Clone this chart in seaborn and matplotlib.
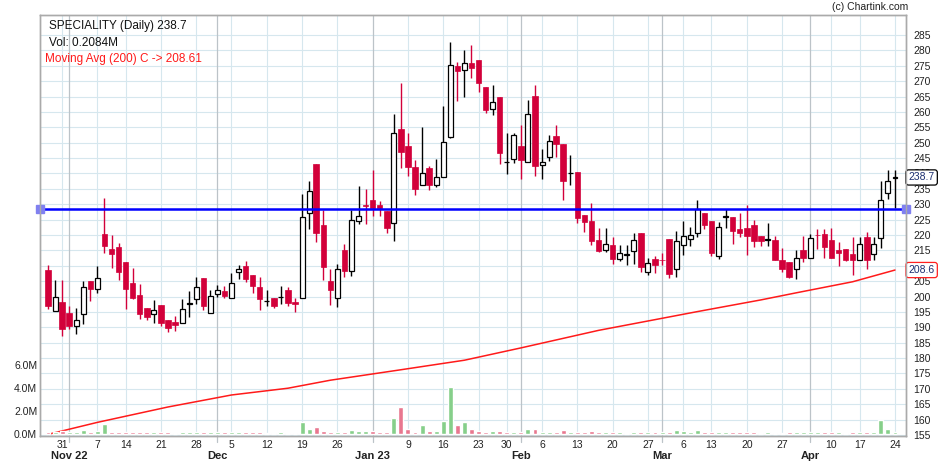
import seaborn as sns
import matplotlib.pyplot as plt
import matplotlib.transforms as mtransforms
import numpy as np
import pandas as pd

# NSE trading days shown on the chart
holidays = ["2022-11-08", "2023-01-26", "2023-03-07", "2023-03-30",
            "2023-04-04", "2023-04-07", "2023-04-14"]
dates = pd.bdate_range("2022-10-27", "2023-04-24", freq="C", holidays=holidays)

opens = [208.5, 195.2, 198.3, 194.7, 190.4, 194.2, 204.9, 202.4, 220.4, 215.6,
         216.1, 211.3, 204.4, 200.5, 196.3, 194.3, 197.3, 192.4, 191.8, 191.3,
         197.6, 199.1, 206.1, 194.7, 200.9, 201.7, 199.6, 208.1, 209.8, 206.9,
         203.1, 198.4, 199.4, 199.7, 202.0, 198.1, 199.6, 227.2, 243.0, 223.1,
         204.9, 199.6, 215.0, 208.4, 224.6, 229.6, 231.4, 229.7, 227.8, 223.8,
         254.4, 248.9, 242.2, 236.1, 241.7, 236.3, 238.7, 252.0, 274.8, 273.5,
         275.9, 276.9, 268.1, 260.8, 264.8, 243.6, 244.6, 248.9, 243.6, 265.3,
         242.8, 245.4, 252.3, 249.7, 240.0, 240.6, 226.4, 224.4, 218.5, 215.2,
         216.6, 212.2, 213.4, 214.8, 220.8, 208.0, 212.2, 212.0, 218.7, 209.1,
         216.9, 218.8, 220.7, 227.0, 224.4, 213.2, 225.9, 226.0, 222.1, 222.4,
         223.2, 219.8, 218.3, 218.5, 212.0, 211.1, 209.0, 215.1, 212.5, 220.0,
         220.2, 218.3, 215.1, 215.6, 213.7, 211.9, 219.2, 213.8, 219.0, 233.5,
         238.5]
highs = [210.3, 205.5, 205.5, 197.0, 196.3, 204.9, 204.9, 209.9, 232.1, 220.0,
         217.4, 211.3, 209.2, 204.0, 196.3, 198.8, 197.3, 192.4, 193.6, 199.2,
         201.8, 206.2, 206.1, 202.0, 203.9, 203.3, 207.8, 210.4, 211.4, 206.9,
         206.5, 202.0, 199.4, 203.3, 203.0, 199.4, 233.2, 237.4, 243.0, 228.0,
         208.8, 210.7, 217.2, 228.0, 235.9, 234.8, 241.1, 231.0, 227.8, 259.3,
         269.5, 253.0, 244.4, 255.1, 242.4, 244.6, 261.9, 282.6, 276.2, 280.0,
         281.7, 276.9, 268.1, 268.7, 264.8, 253.3, 253.3, 255.7, 263.8, 268.7,
         247.8, 252.6, 255.6, 249.7, 246.1, 240.6, 226.4, 230.5, 222.3, 222.3,
         219.2, 216.9, 216.9, 220.5, 220.8, 212.5, 213.3, 214.0, 218.7, 221.4,
         224.7, 222.6, 231.5, 227.0, 224.4, 224.2, 228.6, 226.0, 227.2, 229.6,
         225.0, 219.8, 224.0, 219.8, 215.7, 211.1, 215.0, 219.8, 220.2, 221.8,
         222.0, 222.4, 217.7, 215.6, 219.5, 219.3, 221.1, 219.4, 237.6, 241.2,
         241.2]
lows = [195.8, 195.2, 187.3, 189.3, 187.7, 191.1, 198.7, 201.3, 214.3, 209.4,
        205.5, 195.9, 199.3, 192.6, 192.5, 191.4, 190.5, 188.6, 188.7, 191.3,
        193.2, 197.6, 195.5, 194.7, 199.8, 199.6, 199.6, 205.8, 204.8, 201.1,
        195.6, 196.9, 196.4, 197.5, 197.0, 195.0, 199.6, 221.9, 217.6, 205.3,
        197.1, 196.6, 206.3, 206.6, 223.7, 223.6, 226.3, 226.3, 220.8, 218.2,
        241.9, 239.3, 233.1, 236.1, 234.7, 235.5, 238.7, 251.5, 263.4, 265.0,
        271.1, 266.6, 259.8, 259.1, 243.2, 239.9, 243.5, 238.3, 243.6, 239.3,
        238.1, 244.0, 245.2, 231.3, 236.4, 224.0, 221.1, 216.9, 214.4, 214.5,
        210.5, 211.7, 210.2, 210.7, 207.9, 206.9, 207.5, 210.1, 206.1, 206.3,
        213.5, 216.4, 219.3, 221.8, 213.1, 212.2, 222.3, 217.0, 219.3, 213.5,
        216.2, 216.4, 216.4, 211.8, 207.9, 206.1, 205.8, 211.3, 212.5, 215.3,
        212.5, 212.5, 209.9, 211.5, 207.0, 211.9, 209.0, 212.0, 215.7, 231.8,
        228.7]
closes = [196.8, 199.8, 189.3, 190.3, 192.3, 203.0, 202.3, 206.0, 216.3, 213.9,
          208.1, 202.6, 199.6, 194.4, 193.5, 195.6, 191.4, 189.9, 190.8, 196.0,
          198.0, 203.0, 196.8, 200.3, 202.2, 200.1, 204.5, 208.8, 205.8, 203.4,
          199.2, 198.7, 196.9, 199.9, 197.9, 197.7, 226.0, 234.2, 220.6, 209.6,
          202.0, 209.1, 208.3, 225.0, 226.3, 229.3, 228.9, 228.8, 222.4, 253.0,
          247.1, 242.2, 235.1, 240.3, 236.3, 239.0, 250.1, 275.1, 273.4, 275.8,
          274.4, 269.5, 260.7, 263.1, 246.8, 243.8, 252.5, 244.5, 259.2, 242.4,
          243.8, 250.7, 249.5, 237.5, 240.2, 225.5, 224.2, 218.0, 214.7, 217.1,
          212.1, 214.0, 213.7, 218.4, 209.5, 210.9, 210.2, 211.8, 207.3, 218.2,
          219.8, 220.1, 228.5, 223.2, 214.1, 222.6, 226.0, 221.3, 220.6, 219.6,
          217.9, 218.1, 218.4, 211.8, 209.0, 206.5, 212.4, 212.5, 218.9, 219.9,
          216.1, 212.5, 214.1, 212.0, 211.8, 217.1, 211.8, 217.1, 231.4, 237.6,
          238.7]
volume_m = [0.20, 0.18, 0.25, 0.18, 0.18, 0.32, 0.18, 0.25, 0.90, 0.18,
            0.18, 0.18, 0.18, 0.18, 0.18, 0.18, 0.18, 0.18, 0.08, 0.18,
            0.18, 0.18, 0.18, 0.18, 0.18, 0.18, 0.18, 0.18, 0.18, 0.18,
            0.18, 0.08, 0.08, 0.18, 0.08, 0.08, 1.05, 0.43, 0.60, 0.26,
            0.20, 0.20, 0.15, 0.35, 0.26, 0.26, 0.26, 0.15, 0.20, 1.39,
            2.35, 0.43, 0.20, 0.81, 0.29, 0.29, 1.16, 4.12, 0.81, 1.07,
            0.46, 0.29, 0.22, 0.29, 0.29, 0.22, 0.22, 0.22, 0.46, 0.46,
            0.22, 0.18, 0.22, 0.38, 0.22, 0.22, 0.18, 0.29, 0.22, 0.18,
            0.18, 0.18, 0.12, 0.18, 0.18, 0.22, 0.18, 0.18, 0.18, 0.38,
            0.29, 0.18, 0.38, 0.18, 0.18, 0.22, 0.18, 0.18, 0.18, 0.18,
            0.18, 0.08, 0.16, 0.08, 0.08, 0.16, 0.16, 0.16, 0.16, 0.16,
            0.16, 0.16, 0.16, 0.08, 0.16, 0.16, 0.16, 0.16, 1.25, 0.41,
            0.2084]

# 200 day moving average (candle index, value)
ma_idx = [0, 7, 17, 26, 34, 40, 50, 59, 67, 78, 92, 101, 106, 114, 120]
ma_val = [155.2, 159.1, 164.1, 168.0, 170.2, 172.8, 176.2, 179.3, 183.3,
          189.0, 195.1, 198.9, 201.2, 204.8, 208.61]

month_labels = ["Nov 22", "Dec", "Jan 23", "Feb", "Mar", "Apr"]
price_ticks = list(range(155, 290, 5))
vol_ticks = [0, 2, 4, 6]
vol_tick_labels = ["0.0M", "2.0M", "4.0M", "6.0M"]
level = 228.6

sns.set_style("white")
plt.rcParams['font.family'] = ['Liberation Sans', 'DejaVu Sans']

o = np.array(opens); h = np.array(highs); l = np.array(lows); c = np.array(closes)
x = np.arange(len(dates))
up = c >= o

fig = plt.figure(figsize=(9.42, 4.65), dpi=100)
ax = fig.add_axes([40/942, 1-436/465, 866/942, 421/465])
axv = ax.twinx()

grid_c = '#d6e7ee'
for p in price_ticks:
    ax.axhline(p, color=grid_c, lw=0.8, zorder=0)

new_month = np.r_[False, dates.month[1:] != dates.month[:-1]]
mondays = np.where((dates.dayofweek == 0) & ~new_month)[0]
month_pos = np.where(new_month)[0]
for m in mondays:
    ax.axvline(m, color=grid_c, lw=0.8, zorder=0)
for m in month_pos:
    ax.axvline(m, ymin=-0.014, ymax=1, color='#bcc3c8', lw=0.9, zorder=0.5, clip_on=False)

# moving average
sns.lineplot(x=ma_idx, y=ma_val, ax=ax, color='#ff1a1a', lw=1.1, zorder=2)

# candles
red = '#d2003a'
wick_cols = np.where(up, 'black', red)
ax.vlines(x, l, h, colors=wick_cols, lw=1.0, zorder=3)
ax.bar(x[~up], (o - c)[~up], bottom=c[~up], width=0.78, color=red,
       edgecolor=red, lw=0.5, zorder=4)
ax.bar(x[up], np.maximum((c - o)[up], 0.25), bottom=o[up], width=0.7,
       facecolor='white', edgecolor='black', lw=0.9, zorder=4)

# horizontal level
ax.axhline(level, color='#0000ff', lw=1.8, zorder=5)

ax.set_xlim(-1.13, 121.56)
ax.set_ylim(154.67, 291.5)
ax.set_yticks(price_ticks)
ax.yaxis.tick_right()
ax.tick_params(axis='y', length=0, pad=5, labelsize=7.5, labelcolor='#222222')
ax.set_xticks(mondays)
ax.set_xticklabels([str(dates[m].day) for m in mondays])
ax.tick_params(axis='x', length=0, pad=3, labelsize=7.5, labelcolor='#222222')
ax.set_xlabel('')
ax.set_ylabel('')

trans = mtransforms.blended_transform_factory(ax.transData, ax.transAxes)
for m, lab in zip(month_pos, month_labels):
    ax.text(m, -0.048, lab, transform=trans, ha='center', va='center',
            fontsize=8, fontweight='bold', color='#222222')

ax.plot([-1.13, 121.56], [level, level], 's', ms=5.8, color='#8080f0',
        clip_on=False, zorder=6)

# volume on its own scale
prev = np.r_[o[0], c[:-1]]
vol_dir = np.where(c >= prev, 'up', 'down')
vdf = pd.DataFrame({'i': x, 'vol': volume_m, 'dir': vol_dir})
sns.barplot(data=vdf, x='i', y='vol', hue='dir', native_scale=True, dodge=False,
            palette={'up': '#86cf8a', 'down': '#e8778f'}, width=0.7,
            saturation=1, errorbar=None, legend=False, ax=axv)
axv.set_ylim(-0.17, 36.44)
axv.set_yticks(vol_ticks)
axv.set_yticklabels(vol_tick_labels)
axv.yaxis.tick_left()
axv.tick_params(axis='y', length=0, pad=2, labelsize=7.5, labelcolor='#222222')
axv.set_xlabel('')
axv.set_ylabel('')
ax.set_xlim(-1.13, 121.56)

for a in (ax, axv):
    for s in a.spines.values():
        s.set_color('#aaaaaa')
        s.set_linewidth(1.0)

# price boxes on the right
ytrans = mtransforms.blended_transform_factory(ax.transAxes, ax.transData)
ax.text(1.003, closes[-1], "238.7", transform=ytrans, ha='left', va='center',
        fontsize=7.5, color='#1c2f70', zorder=10, clip_on=False,
        bbox=dict(boxstyle='round,pad=0.25', fc='white', ec='black', lw=0.9))
ax.text(1.003, ma_val[-1], "208.6", transform=ytrans, ha='left', va='center',
        fontsize=7.5, color='#1c2f70', zorder=10, clip_on=False,
        bbox=dict(boxstyle='round,pad=0.25', fc='white', ec='#ff2020', lw=0.9))

fig.text(49/942, 1-26/465, "SPECIALITY (Daily) 238.7", fontsize=8.5, va='center', color='#111111')
fig.text(49/942, 1-43/465, "Vol: 0.2084M", fontsize=8.5, va='center', color='#111111')
fig.text(45/942, 1-59/465, "Moving Avg (200) C -> 208.61", fontsize=8.5, va='center', color='#ff1a1a')
fig.text(908/942, 1-7/465, "(c) Chartink.com", fontsize=7.5, va='center', ha='right', color='#222222')

plt.savefig("out.png", dpi=100)
